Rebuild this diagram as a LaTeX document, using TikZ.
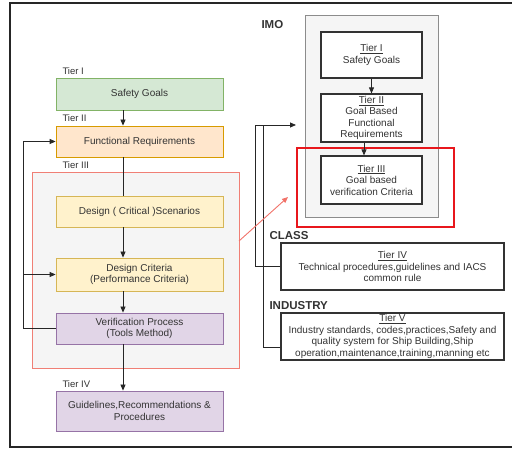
\documentclass[tikz,border=0pt]{standalone}
\usepackage{fontspec}
\setmainfont{Liberation Sans}
\usetikzlibrary{arrows.meta}
\definecolor{gfill}{HTML}{D5E8D4}\definecolor{gdraw}{HTML}{82B366}
\definecolor{ofill}{HTML}{FFE6CC}\definecolor{odraw}{HTML}{D79B00}
\definecolor{yfill}{HTML}{FFF2CC}\definecolor{ydraw}{HTML}{D6B656}
\definecolor{pfill}{HTML}{E1D5E7}\definecolor{pdraw}{HTML}{9673A6}
\definecolor{lgray}{HTML}{F5F5F5}\definecolor{txt}{HTML}{333333}
\definecolor{redc}{HTML}{F07F75}\definecolor{hired}{HTML}{E8171C}
\begin{document}
\begin{tikzpicture}[x=1pt,y=-1pt,
  every node/.style={text=txt,font=\fontsize{10}{11.5}\selectfont},
  lbox/.style={draw,line width=0.8pt,minimum width=167pt,inner sep=1pt,align=center},
  rbox/.style={draw=txt,fill=white,line width=1.2pt,inner sep=1pt,align=center},
  tierlbl/.style={anchor=west,font=\fontsize{9.5}{10}\selectfont},
  grp/.style={anchor=west,font=\fontsize{11.5}{13}\selectfont\bfseries},
  conn/.style={draw=black!85,line width=0.8pt},
  arr/.style={conn,-{Triangle[length=6pt,width=5pt]}}]
\useasboundingbox (0,0) rectangle (512,449);
% outer frame
\draw[line width=1.4pt,black!85] (10,3) rectangle (516,447);
% red container (Tier III)
\draw[redc,fill=lgray,line width=0.8pt] (32,172) rectangle (239,368);
\coordinate (ax) at (123,0);
% left boxes
\node[lbox,fill=gfill,draw=gdraw,minimum height=32pt] (sg) at (139.5,94) {Safety Goals};
\node[lbox,fill=ofill,draw=odraw,minimum height=31pt] (fr) at (139.5,141.5) {Functional Requirements};
\node[lbox,fill=yfill,draw=ydraw,minimum height=31pt] (ds) at (139.5,211.5) {Design ( Critical )Scenarios};
\node[lbox,fill=yfill,draw=ydraw,minimum height=33pt] (dc) at (139.5,274.5) {Design Criteria\\(Performance Criteria)};
\node[lbox,fill=pfill,draw=pdraw,minimum height=31pt] (vp) at (139.5,328.5) {Verification Process\\(Tools Method)};
\node[lbox,fill=pfill,draw=pdraw,minimum height=40pt] (gl) at (139.5,411) {Guidelines,Recommendations \&\\Procedures};
% tier labels
\node[tierlbl] (l1) at (59,71) {Tier I};
\node[tierlbl] (l2) at (59,118) {Tier II};
\node[tierlbl] (l3) at (59,165) {Tier III};
\node[tierlbl] (l4) at (59,384) {Tier IV};
% left connectors
\draw[arr] (sg.south -| ax) -- (fr.north -| ax);
\draw[conn] (fr.south -| ax) -- (ds.north -| ax);
\draw[arr] (ds.south -| ax) -- (dc.north -| ax);
\draw[arr] (dc.south -| ax) -- (vp.north -| ax);
\draw[arr] (vp.south -| ax) -- (gl.north -| ax);
\coordinate (fb) at (23,328.5);
\draw[arr] (vp.west) -- (fb) |- (fr.west);
\draw[arr] (fb |- dc.west) -- (dc.west);
% right side
\node[grp] (imo) at (258,25) {IMO};
\draw[black!45,fill=lgray,line width=1pt] (305,16) rectangle (438,218);
\node[rbox,minimum width=101pt,minimum height=46pt] (t1) at (371.5,55) {\underline{Tier I}\\Safety Goals};
\node[rbox,minimum width=101pt,minimum height=48pt] (t2) at (371.5,118) {\underline{Tier II}\\Goal Based\\Functional\\Requirements};
\node[rbox,minimum width=101pt,minimum height=48pt] (t3) at (371.5,180) {\underline{Tier III}\\Goal based\\verification Criteria};
\draw[hired,line width=2.6pt] (297,148) rectangle (454,227);
\draw[arr] (t1.south) -- (t2.north);
\draw[arr] (t2.south -| 364,0) -- (t3.north -| 364,0);
\node[grp] (cls) at (266,236) {CLASS};
\node[rbox,minimum width=223pt,minimum height=47pt] (t4) at (392.5,266.5) {\underline{Tier IV}\\Technical procedures,guidelines and IACS\\common rule};
\node[grp] (ind) at (266,306) {INDUSTRY};
\node[rbox,minimum width=223pt,minimum height=47pt] (t5) at (392.5,336.5) {\underline{Tier V}\\Industry standards, codes,practices,Safety and\\quality system for Ship Building,Ship\\operation,maintenance,training,manning etc};
\coordinate (imoin) at (296,125);
\draw[conn] (t5.west |- 0,347) -| (263,125);
\draw[arr] (t4.west) -| (255,125) -- (imoin);
% red pointer
\coordinate (rs) at (239,241);
\coordinate (re) at (288,197);
\draw[redc!90!red,line width=0.9pt,-{Triangle[length=6pt,width=5pt]}] (rs) -- (re);
\end{tikzpicture}
\end{document}
